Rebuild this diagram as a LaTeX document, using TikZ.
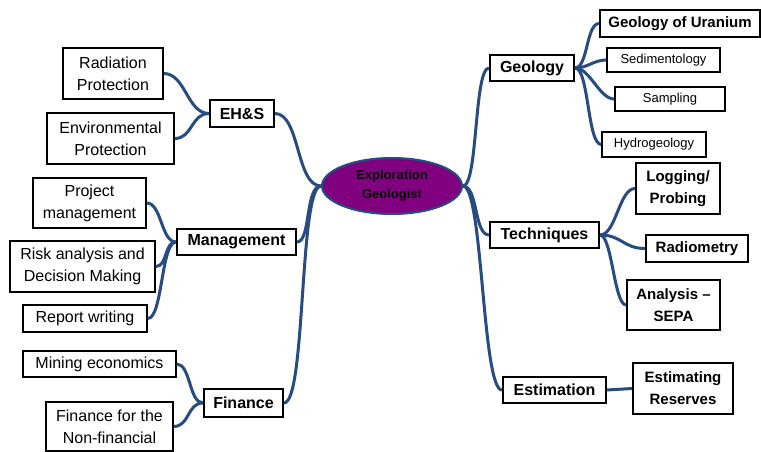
\documentclass[tikz,border=0pt]{standalone}
\usepackage{fontspec}
\setmainfont{Liberation Sans}
\usetikzlibrary{shapes.geometric}
\definecolor{conn}{RGB}{38,76,128}
\definecolor{purp}{RGB}{128,0,128}
\begin{document}
\begin{tikzpicture}[x=1pt,y=-1pt,
  box/.style={draw=black,line width=1.4pt,fill=white,inner sep=0pt,align=center,
    font=\fontsize{16}{22}\selectfont},
  smallbox/.style={box,font=\fontsize{13}{16}\selectfont},
  mainbox/.style={box,line width=2pt,font=\fontsize{16}{21}\selectfont\bfseries},
  subbold/.style={box,line width=1.8pt,font=\fontsize{15}{22}\selectfont\bfseries},
  link/.style={draw=conn,line width=3pt}]
\fill[white] (0,0) rectangle (761,452);
\useasboundingbox (0,0) rectangle (761,452);

% centre
\node[ellipse,draw=conn,line width=2pt,fill=purp,minimum width=140pt,minimum height=56pt,inner sep=0pt,
  align=center,font=\fontsize{13}{19}\selectfont\bfseries] (ell) at (392,186) {Exploration\\Geologist};

% left side
\node[mainbox,minimum width=64pt,minimum height=27pt] (ehs) at (242,113.5) {EH\&S};
\node[box,minimum width=100pt,minimum height=51pt] (rad) at (113,73.5) {Radiation\\Protection};
\node[box,minimum width=127pt,minimum height=51pt] (env) at (110.5,138.5) {Environmental\\Protection};

\node[mainbox,minimum width=119pt,minimum height=26pt] (mgmt) at (236.5,242) {Management};
\node[box,minimum width=113pt,minimum height=50pt] (proj) at (89.5,203) {Project\\management};
\node[box,minimum width=145pt,minimum height=51pt] (risk) at (82.5,266.5) {Risk analysis and\\Decision Making};
\node[box,minimum width=124pt,minimum height=27pt] (rep) at (85,318.5) {Report writing};

\node[mainbox,minimum width=79pt,minimum height=28pt] (fin) at (243.5,403) {Finance};
\node[box,minimum width=153pt,minimum height=26pt] (mine) at (99.5,364) {Mining economics};
\node[box,minimum width=127pt,minimum height=49pt] (finnf) at (109.5,426.5) {Finance for the\\Non-financial};

% right side
\node[mainbox,minimum width=84pt,minimum height=26pt] (geol) at (532,68) {Geology};
\node[subbold,minimum width=160pt,minimum height=27pt] (uran) at (680,23.5) {Geology of Uranium};
\node[smallbox,minimum width=113pt,minimum height=24pt] (sed) at (663.5,60) {Sedimentology};
\node[smallbox,minimum width=110pt,minimum height=24pt] (samp) at (670,99) {Sampling};
\node[smallbox,minimum width=104pt,minimum height=25pt] (hydro) at (654,144.5) {Hydrogeology};

\node[mainbox,minimum width=109pt,minimum height=26pt] (tech) at (544.5,235) {Techniques};
\node[subbold,minimum width=84pt,minimum height=51pt] (log) at (678,188.5) {Logging/\\Probing};
\node[subbold,minimum width=102pt,minimum height=27pt] (radio) at (697,248.5) {Radiometry};
\node[subbold,minimum width=93pt,minimum height=50pt] (anal) at (673.5,305) {Analysis --\\SEPA};

\node[mainbox,minimum width=103pt,minimum height=26pt] (est) at (554.5,390) {Estimation};
\node[subbold,minimum width=100pt,minimum height=51pt] (estres) at (683,388.5) {Estimating\\Reserves};

% main connectors
\draw[link] (ehs.east) .. controls +(25,0) and +(-25,0) .. (ell.west);
\draw[link] (mgmt.east) .. controls +(14,0) and +(-16,0) .. (ell.west);
\draw[link] (fin.east) .. controls +(22,0) and +(-22,0) .. (ell.west);
\draw[link] (ell.east) .. controls +(15,0) and +(-15,0) .. (geol.west);
\draw[link] (ell.east) .. controls +(15,0) and +(-15,0) .. (tech.west);
\draw[link] (ell.east) .. controls +(20,0) and +(-20,0) .. (est.west);

% sub connectors
\draw[link] (ehs.west) .. controls +(-22,0) and +(22,0) .. (rad.east);
\draw[link] (ehs.west) .. controls +(-18,0) and +(18,0) .. (env.east);
\draw[link] (mgmt.west) .. controls +(-15,0) and +(15,0) .. (proj.east);
\draw[link] (mgmt.west) .. controls +(-12,0) and +(12,0) .. (risk.east);
\draw[link] (mgmt.west) .. controls +(-15,0) and +(15,0) .. (rep.east);
\draw[link] (fin.west) .. controls +(-14,0) and +(14,0) .. (mine.east);
\draw[link] (fin.west) .. controls +(-16,0) and +(16,0) .. (finnf.east);
\draw[link] (geol.east) .. controls +(13,0) and +(-13,0) .. (uran.west);
\draw[link] (geol.east) .. controls +(13,0) and +(-13,0) .. (sed.west);
\draw[link] (geol.east) .. controls +(15,0) and +(-15,0) .. (samp.west);
\draw[link] (geol.east) .. controls +(14,0) and +(-14,0) .. (hydro.west);
\draw[link] (tech.east) .. controls +(16,0) and +(-16,0) .. (log.west);
\draw[link] (tech.east) .. controls +(22,0) and +(-22,0) .. (radio.west);
\draw[link] (tech.east) .. controls +(12,0) and +(-12,0) .. (anal.west);
\draw[link] (est.east) -- (estres.west);
\end{tikzpicture}
\end{document}
